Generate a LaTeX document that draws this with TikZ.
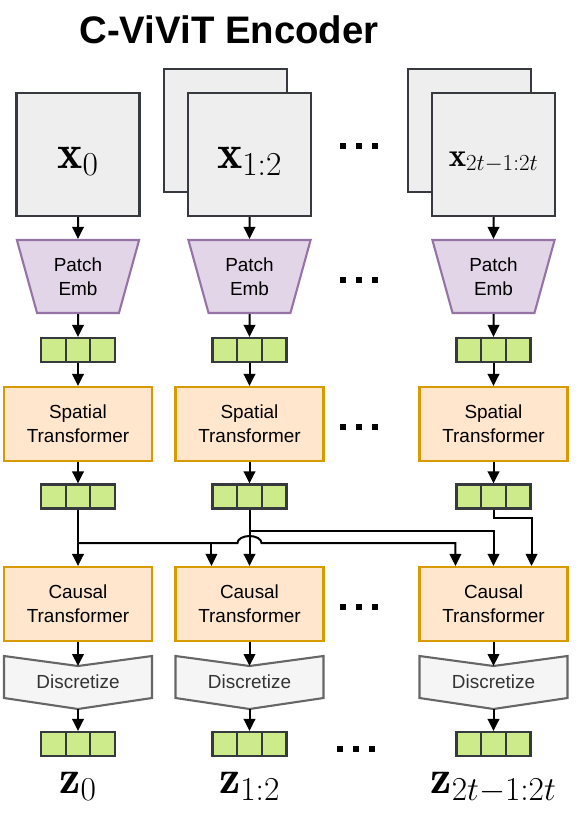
\documentclass[tikz,border=0pt]{standalone}
\usepackage{fix-cm}
\usepackage{amsmath}
\usepackage{fontspec}
\setsansfont{Liberation Sans}
\usetikzlibrary{arrows.meta,shapes.geometric,calc}

\definecolor{imgfill}{HTML}{EEEEEE}
\definecolor{imgline}{HTML}{36393D}
\definecolor{embfill}{HTML}{E1D5E7}
\definecolor{embline}{HTML}{9673A6}
\definecolor{tokfill}{HTML}{CDEB8B}
\definecolor{tokline}{HTML}{36393D}
\definecolor{tffill}{HTML}{FFE6CC}
\definecolor{tfline}{HTML}{D79B00}
\definecolor{dzfill}{HTML}{F5F5F5}
\definecolor{dzline}{HTML}{666666}
\definecolor{dztext}{HTML}{333333}

\newcommand{\gapdots}{\rule{5.5bp}{5.5bp}\hspace{10.5bp}\rule{5.5bp}{5.5bp}\hspace{10.5bp}\rule{5.5bp}{5.5bp}}

\tikzset{
  frame/.style={draw=imgline, fill=imgfill, line width=2.1bp, minimum width=123bp, minimum height=123bp,
    inner sep=0pt, text height=34bp, text depth=7bp, font=\fontsize{48}{48}\selectfont},
  emb/.style={trapezium, shape border rotate=180, trapezium stretches=true, trapezium angle=72.5,
    draw=embline, fill=embfill, line width=2.1bp, minimum width=123bp, minimum height=73bp,
    inner sep=0pt, align=center, font=\sffamily\fontsize{19}{24}\selectfont},
  tok/.style={draw=tokline, fill=tokfill, line width=2.1bp, minimum width=74bp, minimum height=24bp, inner sep=0pt,
    path picture={\draw[tokline, line width=2.1bp]
      ([xshift=24.67bp]path picture bounding box.north west) -- ([xshift=24.67bp]path picture bounding box.south west)
      ([xshift=-24.67bp]path picture bounding box.north east) -- ([xshift=-24.67bp]path picture bounding box.south east);}},
  tf/.style={draw=tfline, fill=tffill, line width=2.1bp, minimum width=148bp, minimum height=74bp,
    inner sep=0pt, align=center, font=\sffamily\fontsize{19}{24}\selectfont},
  arr/.style={-{Triangle[length=12bp,width=11.5bp]}, line width=2bp},
  gap/.style={inner sep=0pt},
  zlab/.style={anchor=base, font=\fontsize{48}{48}\selectfont},
  chev/.pic={
    \draw[draw=dzline, fill=dzfill, line width=2.1bp] (-74,26.5) -- (0,16.5) -- (74,26.5) -- (74,-15.5) -- (0,-26.5) -- (-74,-15.5) -- cycle;
    \coordinate (-top) at (0,16.5);
    \coordinate (-tip) at (0,-26.5);
    \node[text=dztext, inner sep=0pt, font=\sffamily\fontsize{19}{24}\selectfont] (-txt) at (0,1) {Discretize};
  }
}

\begin{document}
\begin{tikzpicture}[x=1bp, y=1bp]
\useasboundingbox (0,0) rectangle (582,-814);

\node[anchor=base, font=\sffamily\bfseries\fontsize{38.5}{38.5}\selectfont] (title) at (229,-44) {C-ViViT Encoder};

% input frames
\node[frame] (xb2) at (225.5,-130.5) {};
\node[frame] (xb3) at (469.5,-130.5) {};
\node[frame] (x1) at (78,-154.5)    {$\mathbf{x}_0$};
\node[frame] (x2) at (249.5,-154.5) {$\mathbf{x}_{1:2}$};
\node[frame, text height=28bp, text depth=5bp, font=\fontsize{33}{33}\selectfont] (x3) at (493.5,-154.5) {$\mathbf{x}_{2t-1:2t}$};

% patch embedding
\node[emb] (pe1) at (78,-276.5)    {Patch\\Emb};
\node[emb] (pe2) at (249.5,-276.5) {Patch\\Emb};
\node[emb] (pe3) at (493.5,-276.5) {Patch\\Emb};

\node[tok] (ta1) at (78,-350)    {};
\node[tok] (ta2) at (249.5,-350) {};
\node[tok] (ta3) at (493.5,-350) {};

% spatial transformers
\node[tf] (sp1) at (78,-424)    {Spatial\\Transformer};
\node[tf] (sp2) at (249.5,-424) {Spatial\\Transformer};
\node[tf] (sp3) at (493.5,-424) {Spatial\\Transformer};

\node[tok] (tb1) at (78,-496.5)    {};
\node[tok] (tb2) at (249.5,-496.5) {};
\node[tok] (tb3) at (493.5,-496.5) {};

% causal transformers
\node[tf] (ca1) at (78,-604)    {Causal\\Transformer};
\node[tf] (ca2) at (249.5,-604) {Causal\\Transformer};
\node[tf] (ca3) at (493.5,-604) {Causal\\Transformer};

\pic (dz1) at (78,-682.5)    {chev};
\pic (dz2) at (249.5,-682.5) {chev};
\pic (dz3) at (493.5,-682.5) {chev};

\node[tok] (tc1) at (78,-744)    {};
\node[tok] (tc2) at (249.5,-744) {};
\node[tok] (tc3) at (493.5,-744) {};

\node[zlab] (z1) at (78,-793)    {$\mathbf{z}_0$};
\node[zlab] (z2) at (249.5,-793) {$\mathbf{z}_{1:2}$};
\node[zlab] (z3) at (493.5,-793) {$\mathbf{z}_{2t-1:2t}$};

% gaps between columns
\node[gap] (g1) at (359,-146) {\gapdots};
\node[gap] (g2) at (359,-280) {\gapdots};
\node[gap] (g3) at (359,-427) {\gapdots};
\node[gap] (g4) at (359,-607) {\gapdots};
\node[gap] (g5) at (356,-749) {\gapdots};

\coordinate (bus1) at (0,-543);
\coordinate (bus2) at (0,-531);
\coordinate (bus3) at (0,-518);

\draw[arr] (x1.south) -- (pe1.north);
\draw[arr] (x2.south) -- (pe2.north);
\draw[arr] (x3.south) -- (pe3.north);
\draw[arr] (pe1.south) -- (ta1.north);
\draw[arr] (pe2.south) -- (ta2.north);
\draw[arr] (pe3.south) -- (ta3.north);
\draw[arr] (ta1.south) -- (sp1.north);
\draw[arr] (ta2.south) -- (sp2.north);
\draw[arr] (ta3.south) -- (sp3.north);
\draw[arr] (sp1.south) -- (tb1.north);
\draw[arr] (sp2.south) -- (tb2.north);
\draw[arr] (sp3.south) -- (tb3.north);

% temporal links
\draw[arr] (tb1.south) -- (ca1.north);
\draw[arr] (tb2.south) -- (ca2.north);
\draw[arr] (tb1.south |- bus1) -- ($(tb2.south |- bus1)+(-12,0)$)
  arc[start angle=180, end angle=0, x radius=12bp, y radius=7bp]
  -- (tb3.south west |- bus1) -- (tb3.south west |- ca3.north);
\draw[arr] (tb2.south west |- bus1) -- (tb2.south west |- ca2.north);
\draw[arr] (tb2.south |- bus2) -| (ca3.north);
\draw[arr] (tb3.south) |- (tb3.south east |- bus3) -- (tb3.south east |- ca3.north);

\draw[arr] (ca1.south) -- (dz1-top);
\draw[arr] (ca2.south) -- (dz2-top);
\draw[arr] (ca3.south) -- (dz3-top);
\draw[arr] (dz1-tip) -- (tc1.north);
\draw[arr] (dz2-tip) -- (tc2.north);
\draw[arr] (dz3-tip) -- (tc3.north);
\end{tikzpicture}
\end{document}
